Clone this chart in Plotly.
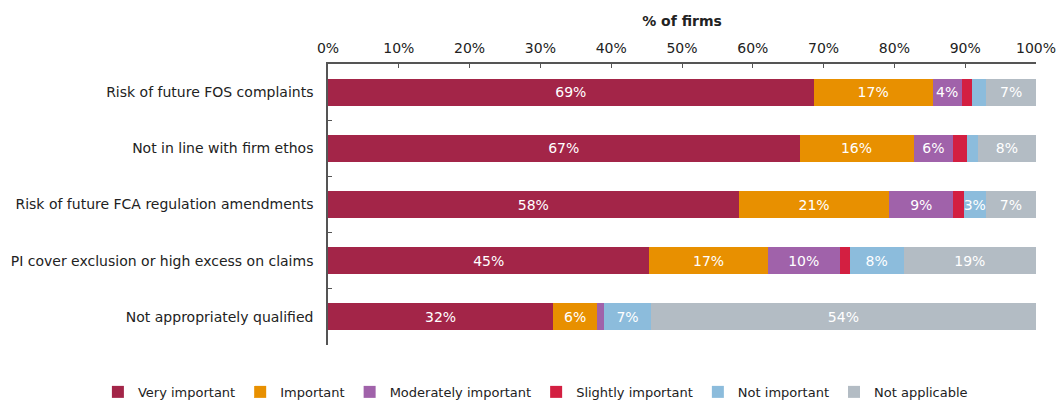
import plotly.graph_objects as go

categories = [
    "Risk of future FOS complaints",
    "Not in line with firm ethos",
    "Risk of future FCA regulation amendments",
    "PI cover exclusion or high excess on claims",
    "Not appropriately qualified",
]

very_important = [68.6, 66.6, 58.0, 45.4, 31.8]
important = [16.8, 16.1, 21.3, 16.7, 6.2]
moderately_important = [4.1, 5.6, 9.0, 10.2, 1.0]
slightly_important = [1.5, 2.0, 1.5, 1.4, 0.0]
not_important = [2.0, 1.5, 3.1, 7.6, 6.6]
not_applicable = [7.0, 8.2, 7.1, 18.7, 54.4]

series = [
    ("Very important", very_important, "#A32548"),
    ("Important", important, "#E89000"),
    ("Moderately important", moderately_important, "#A062AA"),
    ("Slightly important", slightly_important, "#D31F41"),
    ("Not important", not_important, "#8CBCDC"),
    ("Not applicable", not_applicable, "#B3BCC4"),
]

font = "DejaVu Sans, Verdana, sans-serif"

fig = go.Figure()
for name, vals, color in series:
    # small segments are left unlabelled, as in the source
    labels = [f"{round(v)}%" if v >= 2.5 else "" for v in vals]
    fig.add_trace(go.Bar(
        y=categories, x=vals, name=name, orientation="h",
        marker=dict(color=color, line=dict(width=0)),
        text=labels, textposition="inside", insidetextanchor="middle",
        textangle=0, textfont=dict(color="white", size=14, family=font),
    ))

fig.update_layout(
    barmode="stack",
    bargap=0.52,
    width=1056, height=401,
    margin=dict(l=328, r=20, t=64, b=56, autoexpand=False),
    plot_bgcolor="white", paper_bgcolor="white",
    font=dict(family=font, size=14, color="#222222"),
    uniformtext=dict(minsize=14, mode="show"),
    showlegend=True,
    legend=dict(
        orientation="h", x=-0.325, xanchor="left",
        y=-0.167, yanchor="middle",
        font=dict(size=13, family=font), itemwidth=30, traceorder="normal",
    ),
    xaxis=dict(
        side="top", range=[0, 100], dtick=10, ticksuffix="%", automargin=False,
        ticklabeloverflow="allow",
        showgrid=False, zeroline=False,
        showline=True, linecolor="#555555", linewidth=1.5,
        ticks="inside", ticklen=4, tickcolor="#555555", ticklabelstandoff=4,
        title=dict(text="<b>% of firms</b>", standoff=10, font=dict(size=14)),
    ),
    yaxis=dict(
        autorange="reversed", showgrid=False, zeroline=False, automargin=False,
        showline=True, linecolor="#555555", linewidth=1.5,
        ticks="inside", tickson="boundaries", ticklen=4, tickcolor="#555555",
        ticklabelstandoff=10,
    ),
)

# drop the browser's default page margin so the figure sits at the top-left corner
fig.write_html("out.html", config={"displayModeBar": False},
               post_script="document.body.style.margin='0';")
